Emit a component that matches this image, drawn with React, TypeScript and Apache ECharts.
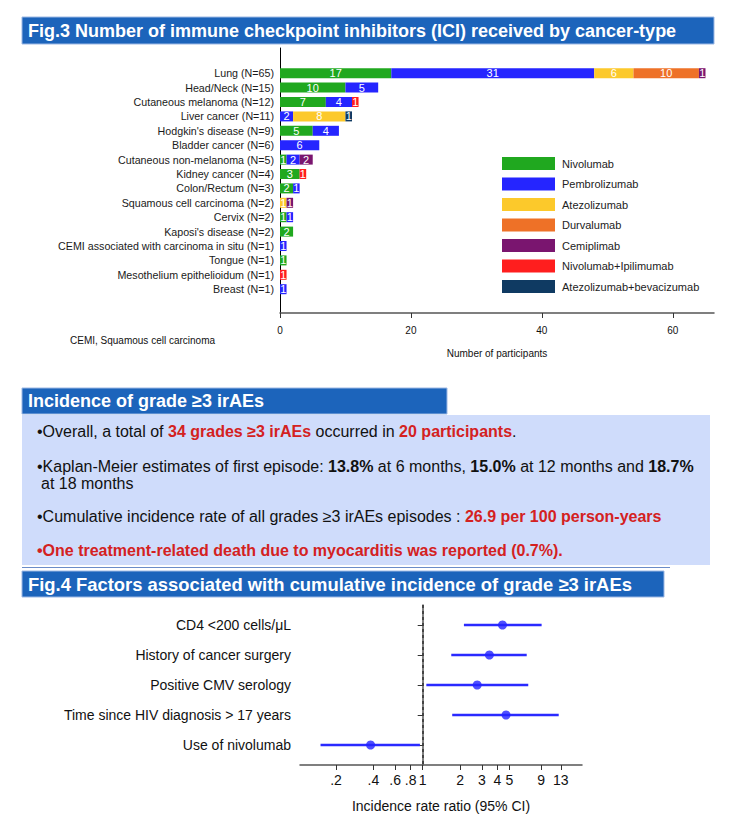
import React, { useEffect, useRef } from 'react';
import * as echarts from 'echarts';

// ---------- Fig.3 data ----------
const cancerTypes = [
  'Lung (N=65)',
  'Head/Neck (N=15)',
  'Cutaneous melanoma (N=12)',
  'Liver cancer (N=11)',
  "Hodgkin's disease (N=9)",
  'Bladder cancer (N=6)',
  'Cutaneous non-melanoma (N=5)',
  'Kidney cancer (N=4)',
  'Colon/Rectum (N=3)',
  'Squamous cell carcinoma (N=2)',
  'Cervix (N=2)',
  "Kaposi's disease (N=2)",
  'CEMI associated with carcinoma in situ (N=1)',
  'Tongue (N=1)',
  'Mesothelium epithelioidum (N=1)',
  'Breast (N=1)',
];
const drugs = [
  'Nivolumab',
  'Pembrolizumab',
  'Atezolizumab',
  'Durvalumab',
  'Cemiplimab',
  'Nivolumab+Ipilimumab',
  'Atezolizumab+bevacizumab',
];
const drugColors = ['#20a81f', '#2525ff', '#fcc92b', '#ee7127', '#7a156f', '#ff1e1e', '#0f3a62'];
const nivolumab = [17, 10, 7, 0, 5, 0, 1, 3, 2, 0, 1, 2, 0, 1, 0, 0];
const pembrolizumab = [31, 5, 4, 2, 4, 6, 2, 0, 1, 0, 1, 0, 1, 0, 0, 1];
const atezolizumab = [6, 0, 0, 8, 0, 0, 0, 0, 0, 1, 0, 0, 0, 0, 0, 0];
const durvalumab = [10, 0, 0, 0, 0, 0, 0, 0, 0, 0, 0, 0, 0, 0, 0, 0];
const cemiplimab = [1, 0, 0, 0, 0, 0, 2, 0, 0, 1, 0, 0, 0, 0, 0, 0];
const nivoIpi = [0, 0, 1, 0, 0, 0, 0, 1, 0, 0, 0, 0, 0, 0, 1, 0];
const atezoBev = [0, 0, 0, 1, 0, 0, 0, 0, 0, 0, 0, 0, 0, 0, 0, 0];
const drugValues = [nivolumab, pembrolizumab, atezolizumab, durvalumab, cemiplimab, nivoIpi, atezoBev];

// ---------- Fig.4 data ----------
const factors = [
  'CD4 <200 cells/\u03bcL',
  'History of cancer surgery',
  'Positive CMV serology',
  'Time since HIV diagnosis > 17 years',
  'Use of nivolumab',
];
const irr = [4.4, 3.45, 2.75, 4.7, 0.38];
const ciLow = [2.15, 1.7, 1.07, 1.73, 0.15];
const ciHigh = [9.1, 6.9, 7.1, 12.5, 0.95];
const irrTickValues = [0.2, 0.4, 0.6, 0.8, 1, 2, 3, 4, 5, 9, 13];
const irrTickLabels = ['.2', '.4', '.6', '.8', '1', '2', '3', '4', '5', '9', '13'];

const SANS = "'Liberation Sans', Arial, sans-serif";
const BANNER = '#1c64bb';
const RED = '#d42121';

export default function App() {
  const ref = useRef<HTMLDivElement>(null);

  useEffect(() => {
    if (!ref.current) return;
    const chart = echarts.init(ref.current, undefined, { renderer: 'svg' });
    const lg = (v: number) => Math.log10(v);
    const tickLogs = irrTickValues.map(lg);

    const bodyRich = {
      n: { fontSize: 16, fontFamily: SANS, fill: '#111' },
      b: { fontSize: 16, fontFamily: SANS, fill: '#111', fontWeight: 'bold' },
      r: { fontSize: 16, fontFamily: SANS, fill: RED, fontWeight: 'bold' },
    };

    const txt = (x: number, y: number, style: any) => ({
      type: 'text',
      x,
      y,
      style: { verticalAlign: 'middle', fontFamily: SANS, ...style },
    });

    const option: any = {
      animation: false,
      backgroundColor: '#ffffff',
      textStyle: { fontFamily: SANS },
      grid: [
        { left: 280, top: 48, width: 434, height: 265 },
        { left: 280, top: 66, width: 434, height: 230.4 },
        { left: 300, top: 605, width: 282, height: 160 },
      ],
      legend: {
        data: drugs,
        orient: 'vertical',
        left: 497,
        top: 152,
        itemWidth: 53,
        itemHeight: 13,
        itemGap: 7.5,
        icon: 'rect',
        selectedMode: false,
        textStyle: { fontSize: 11, color: '#222', fontFamily: SANS, padding: [0, 0, 0, 2] },
      },
      xAxis: [
        {
          gridIndex: 0,
          type: 'value',
          min: 0,
          max: 66.3,
          interval: 20,
          axisLine: { show: true, lineStyle: { color: '#555', width: 1.5 } },
          axisTick: { show: true, length: 5, lineStyle: { color: '#333' } },
          axisLabel: { fontSize: 10, color: '#111', margin: 12, showMaxLabel: false },
          splitLine: { show: false },
          name: 'Number of participants',
          nameLocation: 'middle',
          nameGap: 35,
          nameTextStyle: { fontSize: 10, color: '#111' },
        },
        { gridIndex: 1, type: 'value', min: 0, max: 66.3, show: false },
        {
          gridIndex: 2,
          type: 'value',
          min: -0.9895,
          max: 1.2847,
          axisLine: { show: true, lineStyle: { color: '#555', width: 1.5 } },
          axisTick: { show: true, length: 5, customValues: tickLogs, lineStyle: { color: '#333' } },
          axisLabel: {
            customValues: tickLogs,
            fontSize: 14,
            color: '#111',
            margin: 8,
            formatter: (v: number) => {
              const i = tickLogs.findIndex((t) => Math.abs(t - v) < 1e-6);
              return i >= 0 ? irrTickLabels[i] : '';
            },
          },
          splitLine: { show: false },
          name: 'Incidence rate ratio (95% CI)',
          nameLocation: 'middle',
          nameGap: 34,
          nameTextStyle: { fontSize: 14, color: '#111' },
        },
      ],
      yAxis: [
        {
          gridIndex: 0,
          type: 'value',
          min: 0,
          max: 1,
          axisLine: { show: true, lineStyle: { color: '#000', width: 1 } },
          axisTick: { show: false },
          axisLabel: { show: false },
          splitLine: { show: false },
        },
        {
          gridIndex: 1,
          type: 'category',
          data: cancerTypes,
          inverse: true,
          axisLine: { show: false },
          axisTick: { show: false },
          axisLabel: { fontSize: 10.7, color: '#1a1a1a', margin: 6 },
        },
        {
          gridIndex: 2,
          type: 'value',
          min: 0.333,
          max: 5.667,
          inverse: true,
          axisLine: { show: true, lineStyle: { color: '#555', width: 1.5 } },
          axisTick: { show: true, length: 5, customValues: [1, 2, 3, 4, 5], lineStyle: { color: '#333' } },
          axisLabel: {
            customValues: [1, 2, 3, 4, 5],
            fontSize: 14,
            color: '#111',
            margin: 9,
            formatter: (v: number) => factors[Math.round(v) - 1] || '',
          },
          splitLine: { show: false },
        },
      ],
      series: [
        ...drugs.map((name, i) => ({
          type: 'bar',
          name,
          stack: 'total',
          xAxisIndex: 1,
          yAxisIndex: 1,
          data: drugValues[i],
          barWidth: 10,
          itemStyle: { color: drugColors[i] },
          label: {
            show: true,
            position: 'inside',
            color: '#fff',
            fontSize: 11,
            fontFamily: SANS,
            formatter: (p: any) => (p.value ? String(p.value) : ''),
          },
        })),
        {
          type: 'custom',
          xAxisIndex: 2,
          yAxisIndex: 2,
          data: factors.map((_, i) => [lg(ciLow[i]), lg(ciHigh[i]), i + 1]),
          encode: { x: [0, 1], y: 2 },
          renderItem: (params: any, api: any) => {
            const a = api.coord([api.value(0), api.value(2)]);
            const b = api.coord([api.value(1), api.value(2)]);
            return {
              type: 'line',
              shape: { x1: a[0], y1: a[1], x2: b[0], y2: b[1] },
              style: { stroke: '#2a2aff', lineWidth: 2.5 },
            };
          },
        },
        {
          type: 'scatter',
          xAxisIndex: 2,
          yAxisIndex: 2,
          data: factors.map((_, i) => [lg(irr[i]), i + 1]),
          symbolSize: 9,
          itemStyle: { color: '#2323ff' },
          markLine: {
            silent: true,
            symbol: ['none', 'none'],
            label: { show: false },
            lineStyle: { color: '#333', type: [3, 3], width: 1.5 },
            data: [{ xAxis: 0 }],
          },
        },
      ],
      graphic: [
        { type: 'rect', shape: { x: 22, y: 17, width: 692, height: 27 }, style: { fill: BANNER, stroke: '#9cb8e4', lineWidth: 1 } },
        txt(28, 30.5, {
          text: 'Fig.3 Number of immune checkpoint inhibitors (ICI) received by cancer-type',
          fill: '#fff',
          fontSize: 18,
          fontWeight: 'bold',
        }),
        txt(70, 340, { text: 'CEMI, Squamous cell carcinoma', fill: '#111', fontSize: 10 }),
        { type: 'rect', shape: { x: 22, y: 388, width: 425, height: 26 }, style: { fill: BANNER, stroke: '#9cb8e4', lineWidth: 1 } },
        txt(28, 401, { text: 'Incidence of grade \u22653 irAEs', fill: '#fff', fontSize: 18, fontWeight: 'bold' }),
        { type: 'rect', shape: { x: 22, y: 415, width: 688, height: 150 }, style: { fill: '#cfdcfb' } },
        txt(37, 431, {
          text: '{n|\u2022Overall, a total of }{r|34 grades \u22653 irAEs}{n| occurred in }{r|20 participants}{n|.}',
          rich: bodyRich,
        }),
        txt(37, 466, {
          text: '{n|\u2022Kaplan-Meier estimates of first episode: }{b|13.8%}{n| at 6 months, }{b|15.0%}{n| at 12 months and }{b|18.7%}',
          rich: bodyRich,
        }),
        txt(41, 483, { text: '{n|at 18 months}', rich: bodyRich }),
        txt(37, 516, {
          text: '{n|\u2022Cumulative incidence rate of all grades \u22653 irAEs episodes : }{r|26.9 per 100 person-years}',
          rich: bodyRich,
        }),
        txt(37, 550, {
          text: '{r|\u2022One treatment-related death due to myocarditis was reported (0.7%).}',
          rich: bodyRich,
        }),
        { type: 'line', shape: { x1: 22, y1: 567.5, x2: 670, y2: 567.5 }, style: { stroke: '#6a8cc8', lineWidth: 1 } },
        { type: 'rect', shape: { x: 22, y: 571, width: 642, height: 26 }, style: { fill: BANNER, stroke: '#9cb8e4', lineWidth: 1 } },
        txt(28, 584, {
          text: 'Fig.4 Factors associated with cumulative incidence of grade \u22653 irAEs',
          fill: '#fff',
          fontSize: 18.4,
          fontWeight: 'bold',
        }),
      ],
    };

    chart.setOption(option);
    return () => chart.dispose();
  }, []);

  return (
    <div
      ref={ref}
      style={{ position: 'absolute', left: 0, top: 0, width: 739, height: 831, background: '#fff' }}
    />
  );
}
